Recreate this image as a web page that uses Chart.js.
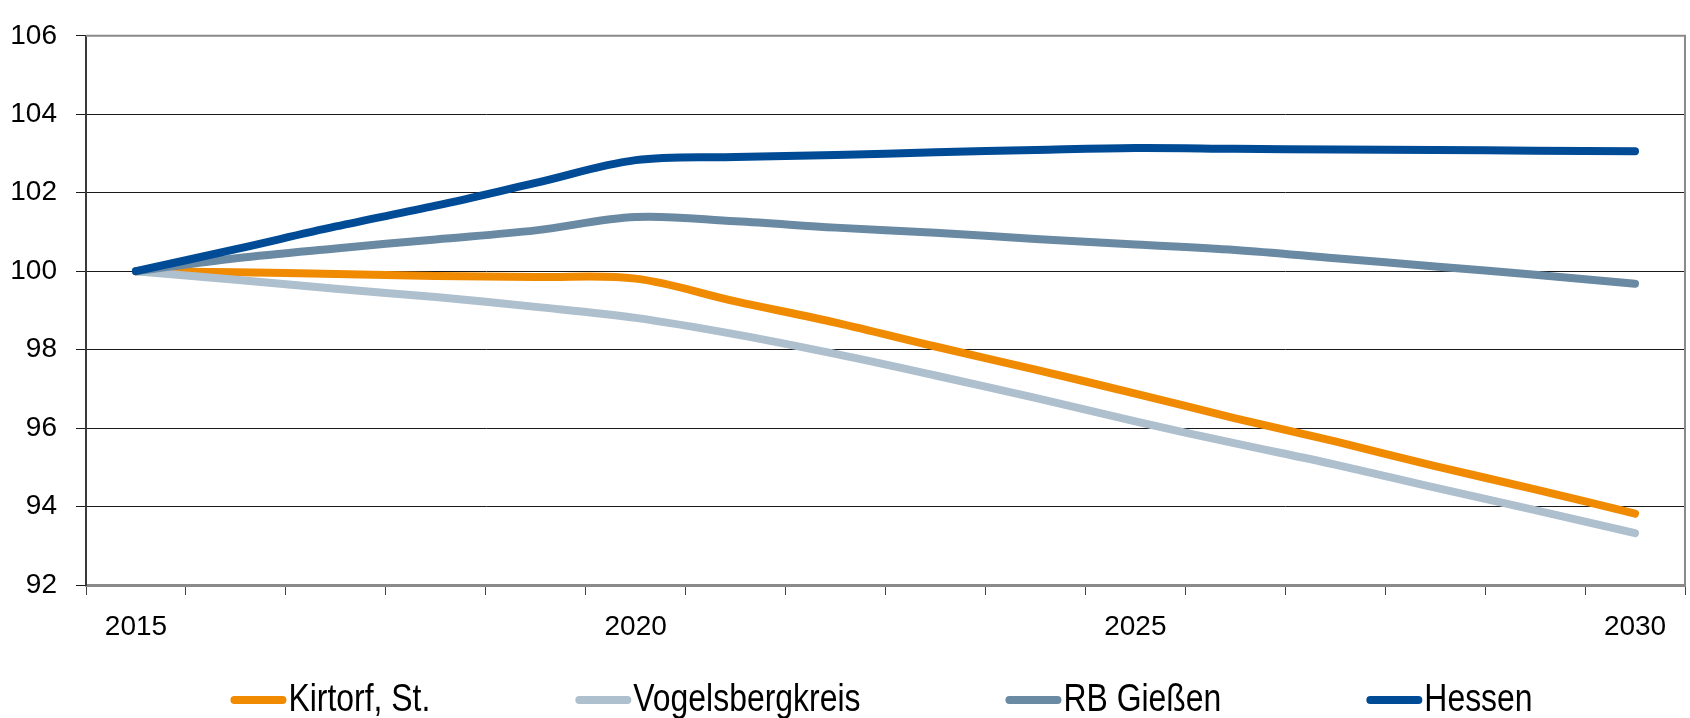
<!DOCTYPE html>
<html>
<head>
<meta charset="utf-8">
<script src="https://cdn.jsdelivr.net/npm/chart.js@4"></script>
<style>
  html, body { margin: 0; padding: 0; background: #fff; }
  #wrap { width: 1690px; height: 718px; }
</style>
</head>
<body>
<div id="wrap"><canvas id="chart" width="1690" height="718"></canvas></div>
<script>
// data (index, 2015 = 100)
const years = ['2015','2016','2017','2018','2019','2020','2021','2022','2023','2024','2025','2026','2027','2028','2029','2030'];
const kirtorf = [100, 99.97, 99.93, 99.88, 99.85, 99.81, 99.23, 98.69, 98.08, 97.49, 96.88, 96.25, 95.66, 95.03, 94.44, 93.82];
const vogelsberg = [100, 99.78, 99.55, 99.34, 99.09, 98.81, 98.39, 97.89, 97.34, 96.77, 96.17, 95.61, 95.07, 94.48, 93.91, 93.32];
const rbGiessen = [100, 100.33, 100.58, 100.81, 101.04, 101.38, 101.27, 101.11, 100.98, 100.82, 100.68, 100.54, 100.33, 100.12, 99.91, 99.68];
const hessen = [100, 100.56, 101.14, 101.67, 102.25, 102.83, 102.91, 102.96, 103.03, 103.09, 103.14, 103.12, 103.10, 103.09, 103.07, 103.06];
const seriesNames = ['Kirtorf, St.', 'Vogelsbergkreis', 'RB Gießen', 'Hessen'];
const seriesColors = ['#F08A00', '#AEBFCE', '#6A89A3', '#004B96'];

const FONT = '"Liberation Sans", Arial, sans-serif';

function makeSet(i, values) {
    return {
        label: seriesNames[i],
        data: values,
        borderColor: seriesColors[i],
        backgroundColor: seriesColors[i],
        borderWidth: 8,
        borderCapStyle: 'round',
        borderJoinStyle: 'round',
        pointRadius: 0,
        tension: 0.35,
        order: 3 - i
    };
}

// grey frame on top/right like the original
const framePlugin = {
    id: 'frame',
    afterDraw(chart) {
        const a = chart.chartArea;
        const ctx = chart.ctx;
        ctx.save();
        ctx.strokeStyle = '#8a8a8a';
        ctx.lineWidth = 2;
        ctx.beginPath();
        ctx.moveTo(a.left, a.top);
        ctx.lineTo(a.right, a.top);
        ctx.lineTo(a.right, a.bottom);
        ctx.stroke();
        ctx.restore();
    }
};

// legend: short thick line, tiny gap, condensed label
const legendPlugin = {
    id: 'bottomLegend',
    afterDraw(chart) {
        const ctx = chart.ctx;
        const a = chart.chartArea;
        const sample = 56, gap = 2, spacing = 145, y = 700, squeeze = 0.84;
        ctx.save();
        ctx.font = '38px ' + FONT;
        const widths = seriesNames.map(n => ctx.measureText(n).width * squeeze);
        let total = 0;
        widths.forEach(w => total += sample + gap + w);
        total += spacing * (seriesNames.length - 1);
        let x = (a.left + a.right) / 2 - 4 - total / 2;
        seriesNames.forEach((n, i) => {
            ctx.strokeStyle = seriesColors[i];
            ctx.lineWidth = 8;
            ctx.lineCap = 'round';
            ctx.beginPath();
            ctx.moveTo(x + 4, y);
            ctx.lineTo(x + sample - 4, y);
            ctx.stroke();
            ctx.save();
            ctx.translate(x + sample + gap, y + 1);
            ctx.scale(squeeze, 1);
            ctx.fillStyle = '#000';
            ctx.textBaseline = 'middle';
            ctx.textAlign = 'left';
            ctx.fillText(n, 0, 0);
            ctx.restore();
            x += sample + gap + widths[i] + spacing;
        });
        ctx.restore();
    }
};

new Chart(document.getElementById('chart'), {
    type: 'line',
    data: {
        labels: years,
        datasets: [makeSet(0, kirtorf), makeSet(1, vogelsberg), makeSet(2, rbGiessen), makeSet(3, hessen)]
    },
    options: {
        responsive: false,
        animation: false,
        layout: { padding: { top: 30, right: 5, left: 0, bottom: 0 } },
        plugins: { legend: { display: false }, tooltip: { enabled: false } },
        scales: {
            x: {
                offset: true,
                afterFit: s => { s.height = 133; },
                grid: { offset: true, drawOnChartArea: false, drawTicks: true, tickLength: 10, color: '#444', lineWidth: 1 },
                border: { color: '#8a8a8a', width: 3 },
                ticks: {
                    autoSkip: false,
                    maxRotation: 0,
                    padding: 15,
                    color: '#000',
                    font: { family: FONT, size: 28 },
                    callback: (v, i) => (i % 5 === 0 ? years[i] : '')
                }
            },
            y: {
                min: 92,
                max: 106,
                afterFit: s => { s.width = 86; },
                grid: { color: '#1a1a1a', lineWidth: 1, tickLength: 10 },
                border: { color: '#3a3a3a', width: 2 },
                ticks: {
                    stepSize: 2,
                    padding: 19,
                    color: '#000',
                    font: { family: FONT, size: 28 }
                }
            }
        }
    },
    plugins: [framePlugin, legendPlugin]
});
</script>
</body>
</html>
